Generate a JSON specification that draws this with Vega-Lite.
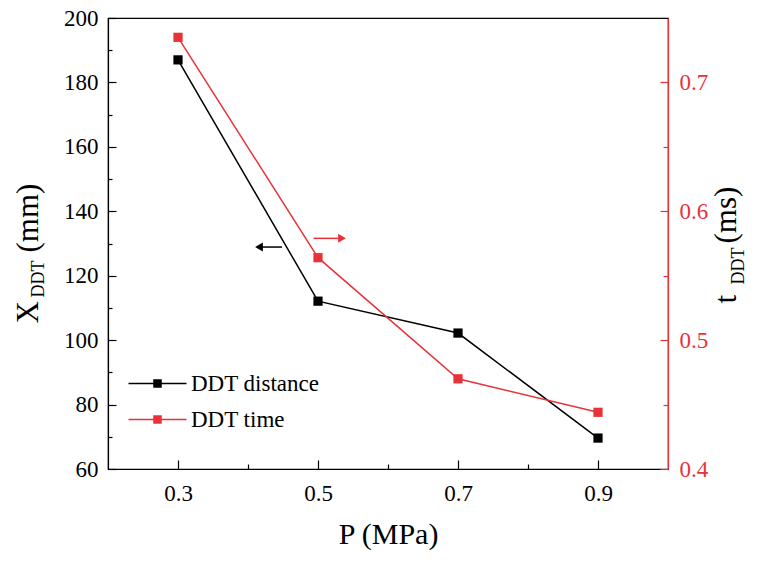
{
  "$schema": "https://vega.github.io/schema/vega-lite/v6.json",
  "width": 560,
  "height": 451,
  "autosize": {"type": "none"},
  "padding": {"left": 108, "top": 18, "right": 90, "bottom": 92},
  "background": "white",
  "config": {
    "view": {"stroke": "black", "strokeWidth": 1.2},
    "font": "Liberation Serif",
    "axis": {
      "labelFont": "Liberation Serif",
      "titleFont": "Liberation Serif",
      "labelFontSize": 23,
      "titleFontSize": 30,
      "titleFontWeight": "normal",
      "domainWidth": 1.2,
      "tickWidth": 1.2,
      "grid": false,
      "domainColor": "black",
      "tickColor": "black",
      "labelColor": "black",
      "titleColor": "black",
      "labelFlush": false,
      "labelOverlap": false
    }
  },
  "datasets": {
    "series": [
      {"P": 0.3, "series": "DDT distance", "value": 187.0},
      {"P": 0.5, "series": "DDT distance", "value": 112.1},
      {"P": 0.7, "series": "DDT distance", "value": 102.2},
      {"P": 0.9, "series": "DDT distance", "value": 69.6},
      {"P": 0.3, "series": "DDT time", "value": 0.735},
      {"P": 0.5, "series": "DDT time", "value": 0.564},
      {"P": 0.7, "series": "DDT time", "value": 0.470},
      {"P": 0.9, "series": "DDT time", "value": 0.444}
    ],
    "arrowL": [{"P1": 0.4157, "P2": 0.4486, "v": 128.9}],
    "arrowR": [{"P1": 0.4936, "P2": 0.5343, "v": 0.579}]
  },
  "layer": [
    {
      "data": {"name": "series"},
      "transform": [{"filter": "datum.series === 'DDT distance'"}],
      "mark": {"type": "line", "strokeWidth": 1.5, "point": {"shape": "square", "size": 85, "filled": true}},
      "encoding": {
        "x": {
          "field": "P", "type": "quantitative", "title": "P (MPa)",
          "scale": {"domain": [0.2, 1.0], "nice": false, "zero": false},
          "axis": {
            "title": "P (MPa)",
            "values": [0.3, 0.4, 0.5, 0.6, 0.7, 0.8, 0.9],
            "format": ".1f",
            "labelExpr": "(round(datum.value*10)%2==1) ? datum.label : ''",
            "tickSize": {"condition": {"test": "round(datum.value*10)%2==1", "value": -9}, "value": -5},
            "labelPadding": 22,
            "titleY": 74,
            "titleBaseline": "alphabetic"
          }
        },
        "y": {
          "field": "value", "type": "quantitative",
          "scale": {"domain": [60, 200], "nice": false, "zero": false},
          "axis": {
            "orient": "left",
            "values": [60, 70, 80, 90, 100, 110, 120, 130, 140, 150, 160, 170, 180, 190, 200],
            "labelExpr": "datum.value % 20 == 0 ? datum.label : ''",
            "tickSize": {"condition": {"test": "datum.value % 20 == 0", "value": -8}, "value": -4},
            "labelPadding": 18,
            "title": "X",
            "titleX": -71, "titleY": 305,
            "titleAngle": 270, "titleAlign": "left", "titleBaseline": "alphabetic",
            "titleFontSize": 31
          }
        },
        "color": {
          "field": "series", "type": "nominal",
          "scale": {"domain": ["DDT distance", "DDT time"], "range": ["black", "#e8323a"]},
          "legend": {
            "title": null,
            "orient": "none",
            "legendX": 38,
            "legendY": 354,
            "symbolType": "M-2.9,0H2.9M-0.35,-0.35H0.35V0.35H-0.35Z",
            "symbolSize": 400,
            "symbolStrokeWidth": 1.5,
            "labelFont": "Liberation Serif",
            "labelFontSize": 23,
            "labelColor": "black",
            "labelOffset": 22,
            "rowPadding": 12,
            "padding": 0,
            "encode": {"symbols": {"update": {"fill": {"scale": "color", "field": "value"}, "stroke": {"scale": "color", "field": "value"}}}}
          }
        }
      }
    },
    {
      "data": {"name": "series"},
      "transform": [{"filter": "datum.series === 'DDT time'"}],
      "mark": {"type": "line", "strokeWidth": 1.5, "point": {"shape": "square", "size": 85, "filled": true}},
      "encoding": {
        "x": {"field": "P", "type": "quantitative", "title": "P (MPa)"},
        "y": {
          "field": "value", "type": "quantitative",
          "scale": {"domain": [0.4, 0.75], "nice": false, "zero": false},
          "axis": {
            "orient": "right",
            "values": [0.4, 0.45, 0.5, 0.55, 0.6, 0.65, 0.7],
            "format": ".1f",
            "labelExpr": "abs(datum.value*10-round(datum.value*10))<0.01 ? datum.label : ''",
            "tickSize": {"condition": {"test": "abs(datum.value*10-round(datum.value*10))<0.01", "value": -8}, "value": -5},
            "labelPadding": 19,
            "domainColor": "#e8323a", "tickColor": "#e8323a", "labelColor": "#e8323a", "titleColor": "black",
            "title": "t",
            "titleX": 67, "titleY": 285,
            "titleAngle": 270, "titleAlign": "left", "titleBaseline": "alphabetic",
            "titleFontSize": 31
          }
        },
        "color": {"field": "series", "type": "nominal"}
      }
    },
    {
      "data": {"name": "arrowL"},
      "mark": {"type": "rule", "color": "black", "strokeWidth": 1.5},
      "encoding": {
        "x": {"field": "P1", "type": "quantitative", "title": "P (MPa)"},
        "x2": {"field": "P2"},
        "y": {
          "field": "v", "type": "quantitative",
          "scale": {"domain": [60, 200], "nice": false, "zero": false},
          "axis": {
            "orient": "left", "domain": false, "ticks": false, "labels": false,
            "title": "DDT", "titleFontSize": 18,
            "titleX": -65, "titleY": 279,
            "titleAngle": 270, "titleAlign": "left", "titleBaseline": "alphabetic"
          }
        }
      }
    },
    {
      "data": {"name": "arrowL"},
      "mark": {"type": "point", "shape": "triangle-left", "filled": true, "color": "black", "size": 80, "opacity": 1},
      "encoding": {
        "x": {"field": "P1", "type": "quantitative", "title": "P (MPa)"},
        "y": {
          "field": "v", "type": "quantitative",
          "scale": {"domain": [60, 200], "nice": false, "zero": false},
          "axis": {
            "orient": "left", "domain": false, "ticks": false, "labels": false,
            "title": "(mm)", "titleFontSize": 31,
            "titleX": -71, "titleY": 234,
            "titleAngle": 270, "titleAlign": "left", "titleBaseline": "alphabetic"
          }
        }
      }
    },
    {
      "data": {"name": "arrowR"},
      "mark": {"type": "rule", "color": "#e8323a", "strokeWidth": 1.5},
      "encoding": {
        "x": {"field": "P1", "type": "quantitative", "title": "P (MPa)"},
        "x2": {"field": "P2"},
        "y": {
          "field": "v", "type": "quantitative",
          "scale": {"domain": [0.4, 0.75], "nice": false, "zero": false},
          "axis": {
            "orient": "right", "domain": false, "ticks": false, "labels": false,
            "title": "DDT", "titleFontSize": 18,
            "titleX": 75, "titleY": 266,
            "titleAngle": 270, "titleAlign": "left", "titleBaseline": "alphabetic"
          }
        }
      }
    },
    {
      "data": {"name": "arrowR"},
      "mark": {"type": "point", "shape": "triangle-right", "filled": true, "color": "#e8323a", "size": 80, "opacity": 1},
      "encoding": {
        "x": {"field": "P2", "type": "quantitative", "title": "P (MPa)"},
        "y": {
          "field": "v", "type": "quantitative",
          "scale": {"domain": [0.4, 0.75], "nice": false, "zero": false},
          "axis": {
            "orient": "right", "domain": false, "ticks": false, "labels": false,
            "title": "(ms)", "titleFontSize": 31,
            "titleX": 67, "titleY": 225,
            "titleAngle": 270, "titleAlign": "left", "titleBaseline": "alphabetic"
          }
        }
      }
    }
  ],
  "resolve": {"scale": {"y": "independent"}}
}
